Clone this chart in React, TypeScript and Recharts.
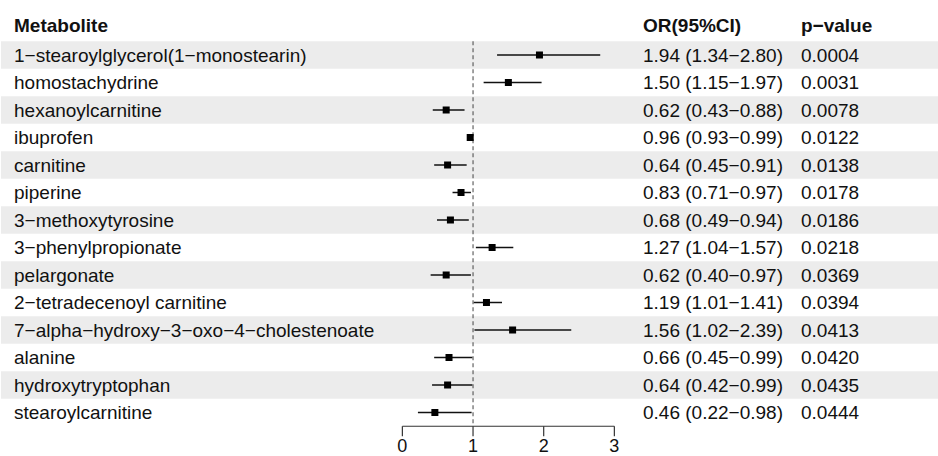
import React from 'react';
import { ScatterChart, Scatter, XAxis, YAxis, ReferenceArea, ReferenceLine } from 'recharts';

const metabolites = [
  '1\u2212stearoylglycerol(1\u2212monostearin)',
  'homostachydrine',
  'hexanoylcarnitine',
  'ibuprofen',
  'carnitine',
  'piperine',
  '3\u2212methoxytyrosine',
  '3\u2212phenylpropionate',
  'pelargonate',
  '2\u2212tetradecenoyl carnitine',
  '7\u2212alpha\u2212hydroxy\u22123\u2212oxo\u22124\u2212cholestenoate',
  'alanine',
  'hydroxytryptophan',
  'stearoylcarnitine',
];
const orValues = [1.94, 1.5, 0.62, 0.96, 0.64, 0.83, 0.68, 1.27, 0.62, 1.19, 1.56, 0.66, 0.64, 0.46];
const ciLow = [1.34, 1.15, 0.43, 0.93, 0.45, 0.71, 0.49, 1.04, 0.4, 1.01, 1.02, 0.45, 0.42, 0.22];
const ciHigh = [2.8, 1.97, 0.88, 0.99, 0.91, 0.97, 0.94, 1.57, 0.97, 1.41, 2.39, 0.99, 0.99, 0.98];
const pValues = ['0.0004', '0.0031', '0.0078', '0.0122', '0.0138', '0.0178', '0.0186', '0.0218', '0.0369', '0.0394', '0.0413', '0.0420', '0.0435', '0.0444'];
const headers = ['Metabolite', 'OR(95%CI)', 'p\u2212value'];
const xTicks = [0, 1, 2, 3];

const FONT = '"Liberation Sans", Arial, sans-serif';
const TEXT = '#111111';

const rows = metabolites.map((name, i) => ({
  row: i + 1,
  or: orValues[i],
  lo: ciLow[i],
  hi: ciHigh[i],
  name,
  orText: `${orValues[i].toFixed(2)} (${ciLow[i].toFixed(2)}\u2212${ciHigh[i].toFixed(2)})`,
  p: pValues[i],
}));

const COL_NAME = 14;
const COL_OR = 643;
const COL_P = 801;

const RowTick = (props: any) => {
  const { y, payload } = props;
  const idx = payload.value;
  if (idx === 0) {
    return (
      <g fontFamily={FONT} fontSize={19} fontWeight="bold" fill={TEXT}>
        <text x={COL_NAME} y={y - 2} dominantBaseline="central">{headers[0]}</text>
        <text x={COL_OR} y={y - 2} dominantBaseline="central">{headers[1]}</text>
        <text x={COL_P} y={y - 2} dominantBaseline="central">{headers[2]}</text>
      </g>
    );
  }
  const r = rows[idx - 1];
  if (!r) return null;
  return (
    <g fontFamily={FONT} fontSize={19} fill={TEXT}>
      <text x={COL_NAME} y={y} dominantBaseline="central">{r.name}</text>
      <text x={COL_OR} y={y} dominantBaseline="central">{r.orText}</text>
      <text x={COL_P} y={y} dominantBaseline="central">{r.p}</text>
    </g>
  );
};

const SquarePoint = (props: any) => {
  const { cx, cy } = props;
  if (cx == null || cy == null) return null;
  return <rect x={cx - 3.5} y={cy - 3.5} width={7} height={7} fill="#000" />;
};

const yTicks = [0, ...rows.map((r) => r.row)];

export default function App() {
  return (
    <div style={{ position: 'absolute', left: 0, top: 0, background: '#fff' }}>
      <ScatterChart width={938} height={456} margin={{ top: 13.75, right: 0, bottom: 0, left: 0 }}>
        {rows
          .filter((r) => r.row % 2 === 1)
          .map((r) => (
            <ReferenceArea
              key={'band' + r.row}
              y1={r.row - 0.5}
              y2={r.row + 0.5}
              fill="#ececec"
              fillOpacity={1}
              stroke="none"
              ifOverflow="visible"
            />
          ))}
        <XAxis
          type="number"
          dataKey="or"
          domain={[-5.68, 7.58]}
          allowDataOverflow
          ticks={xTicks}
          interval={0}
          axisLine={false}
          tickLine={{ stroke: '#333', strokeWidth: 1.2 }}
          tickSize={10}
          tickMargin={3}
          height={29.75}
          tick={{ fill: TEXT, fontSize: 18, fontFamily: FONT }}
        />
        <YAxis
          type="number"
          dataKey="row"
          domain={[-0.5, 14.5]}
          reversed
          ticks={yTicks}
          interval={0}
          width={1}
          axisLine={false}
          tickLine={false}
          tick={<RowTick />}
        />
        <ReferenceLine
          segment={[{ x: 1, y: 0.5 }, { x: 1, y: 14.5 }]}
          stroke="#444"
          strokeWidth={1}
          strokeDasharray="4 3"
        />
        <ReferenceLine
          segment={[{ x: 0, y: 14.5 }, { x: 3, y: 14.5 }]}
          stroke="#333"
          strokeWidth={1.2}
        />
        {rows.map((r) => (
          <ReferenceLine
            key={'ci' + r.row}
            segment={[{ x: r.lo, y: r.row }, { x: r.hi, y: r.row }]}
            stroke="#111"
            strokeWidth={1.5}
          />
        ))}
        <Scatter data={rows} dataKey="row" shape={<SquarePoint />} isAnimationActive={false} />
      </ScatterChart>
    </div>
  );
}
